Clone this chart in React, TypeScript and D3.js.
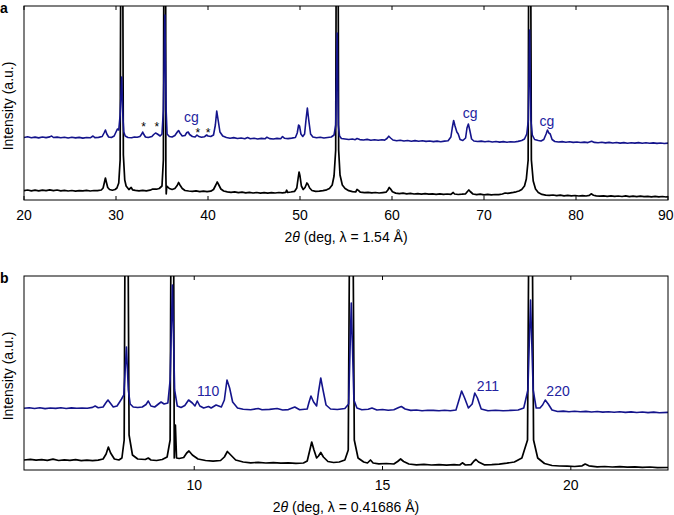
import React from "react";
import * as d3 from "d3";

type P = [number, number];

// Panel a (Cu Kα, λ = 1.54 Å) – intensity in arbitrary units (0 = bottom of frame)
const BLACK_A: P[] = [
  [20.0, 9.4], [20.4, 10.0], [20.8, 9.2], [21.2, 9.8], [21.6, 9.1], [22.0, 9.9], [22.4, 9.3], [22.8, 10.1],
  [23.2, 9.4], [23.6, 10.0], [24.0, 9.2], [24.4, 9.6], [24.8, 9.0], [25.2, 9.5], [25.6, 8.9], [26.0, 9.4],
  [26.4, 9.1], [26.8, 9.6], [27.2, 9.0], [27.6, 9.5], [28.0, 9.3], [28.4, 10.0], [28.6, 12], [28.75, 18],
  [28.85, 22], [28.95, 18], [29.1, 12.5], [29.3, 10.5], [29.6, 9.8], [29.9, 10.5], [30.1, 12], [30.3, 17],
  [30.45, 40], [30.57, 400], [30.68, 400], [30.8, 45], [30.95, 20], [31.1, 14], [31.4, 10.5], [31.65, 12.5],
  [31.8, 10.2], [32.1, 9.6], [32.5, 9.2], [32.9, 9.7], [33.3, 9.1], [33.7, 9.8], [34.0, 11], [34.4, 10.8],
  [34.7, 11.5], [35.0, 14], [35.15, 40], [35.24, 400], [35.38, 400], [35.42, 25], [35.46, 6], [35.52, 14],
  [35.8, 11.5], [36.1, 10.5], [36.4, 11.5], [36.65, 14.5], [36.8, 17.5], [36.95, 15], [37.2, 11.5], [37.5, 9.5],
  [37.9, 9.0], [38.3, 8.6], [38.7, 9.1], [39.1, 8.4], [39.5, 8.9], [39.9, 8.3], [40.3, 8.8], [40.6, 10.5],
  [40.85, 15], [41.0, 18], [41.15, 15.5], [41.4, 11], [41.7, 9], [42.1, 8.2], [42.5, 7.6], [42.9, 8.1],
  [43.3, 7.4], [43.7, 7.9], [44.1, 7.2], [44.5, 7.6], [44.9, 7.0], [45.3, 7.5], [45.7, 6.9], [46.1, 7.4],
  [46.5, 6.9], [46.9, 7.3], [47.3, 7.0], [47.7, 7.5], [48.1, 7.2], [48.45, 7.6], [48.55, 9.8], [48.65, 7.6],
  [49.0, 8.0], [49.4, 8.6], [49.65, 12], [49.8, 22], [49.9, 28], [50.0, 24], [50.15, 14], [50.35, 10.5],
  [50.55, 12.5], [50.75, 17], [50.85, 16], [51.05, 12], [51.3, 9.5], [51.7, 8.6], [52.1, 8.9], [52.5, 9.4],
  [52.9, 10.2], [53.2, 11.5], [53.5, 15], [53.7, 24], [53.88, 50], [53.98, 400], [54.1, 400], [54.2, 50],
  [54.35, 25], [54.6, 15], [54.9, 11.5], [55.3, 9.3], [55.7, 8.4], [56.05, 8.0], [56.2, 10.5], [56.35, 9.6],
  [56.55, 7.8], [57.0, 7.4], [57.4, 7.7], [57.8, 7.1], [58.2, 7.5], [58.6, 7.0], [59.0, 7.4], [59.35, 7.8],
  [59.55, 10], [59.7, 12.5], [59.85, 11], [60.05, 8.2], [60.4, 6.9], [60.8, 6.4], [61.2, 6.8], [61.6, 6.2],
  [62.0, 6.6], [62.4, 6.0], [62.8, 6.4], [63.2, 5.9], [63.6, 6.3], [64.0, 5.8], [64.4, 6.2], [64.8, 5.7],
  [65.2, 6.1], [65.6, 5.6], [66.0, 6.0], [66.4, 5.6], [66.65, 7.5], [66.8, 6.0], [67.2, 5.5], [67.6, 5.8],
  [68.0, 6.2], [68.2, 8.5], [68.35, 10], [68.5, 8.5], [68.8, 6.0], [69.2, 5.4], [69.6, 5.8], [70.0, 5.2],
  [70.4, 5.6], [70.8, 5.1], [71.2, 5.5], [71.6, 5.3], [72.0, 6.0], [72.3, 7.0], [72.6, 6.6], [72.9, 7.2],
  [73.2, 7.6], [73.5, 8.2], [73.8, 9.0], [74.1, 10.5], [74.4, 14], [74.6, 21], [74.8, 40], [74.9, 400],
  [75.02, 400], [75.15, 40], [75.35, 19], [75.6, 11], [75.9, 7.5], [76.3, 5.6], [76.7, 4.8], [77.1, 4.6],
  [77.5, 5.0], [77.9, 4.4], [78.3, 4.8], [78.7, 4.2], [79.1, 4.6], [79.5, 4.1], [79.9, 4.5], [80.3, 4.0],
  [80.7, 4.4], [81.1, 4.0], [81.45, 4.6], [81.65, 6.2], [81.9, 4.8], [82.2, 4.1], [82.6, 3.8], [83.0, 4.2],
  [83.4, 3.7], [83.8, 4.1], [84.2, 3.6], [84.6, 4.0], [85.0, 3.5], [85.4, 4.1], [85.8, 3.4], [86.2, 3.8],
  [86.6, 3.4], [87.0, 3.8], [87.4, 3.3], [87.8, 3.7], [88.2, 3.2], [88.6, 3.6], [89.0, 3.1], [89.4, 3.5],
  [89.8, 3.0], [90.0, 3.4],
];

const BLUE_A: P[] = [
  [20.0, 62.5], [20.4, 63.2], [20.8, 62.3], [21.2, 62.9], [21.6, 62.1], [22.0, 63.0], [22.4, 62.4], [22.8, 63.1],
  [23.0, 64.0], [23.2, 62.5], [23.6, 62.9], [24.0, 62.2], [24.4, 62.8], [24.8, 62.0], [25.2, 62.7], [25.6, 62.1],
  [26.0, 62.6], [26.4, 61.9], [26.8, 62.5], [27.2, 62.2], [27.5, 64.0], [27.7, 62.4], [28.1, 62.6], [28.5, 63.5],
  [28.7, 67], [28.85, 70], [29.0, 66], [29.2, 63], [29.5, 62.5], [29.8, 64], [30.0, 68], [30.15, 71],
  [30.3, 70], [30.45, 85], [30.62, 123], [30.74, 85], [30.85, 68], [31.0, 64], [31.3, 62.5], [31.7, 62.2],
  [32.0, 63], [32.3, 62.8], [32.6, 63.5], [32.8, 66], [32.9, 68], [33.0, 66], [33.2, 63], [33.5, 62.5],
  [33.9, 63.5], [34.1, 65.5], [34.3, 67], [34.5, 66], [34.8, 64], [35.0, 66], [35.15, 90], [35.31, 185],
  [35.45, 90], [35.55, 66], [35.8, 63.5], [36.1, 63], [36.4, 64.5], [36.7, 68.5], [36.8, 69.5], [36.95, 67],
  [37.2, 64], [37.5, 64.5], [37.7, 67.5], [37.85, 68], [38.0, 65.5], [38.3, 63.5], [38.6, 63], [38.8, 65],
  [39.0, 63.5], [39.3, 62.8], [39.6, 63.2], [39.85, 65], [40.0, 64], [40.3, 63.5], [40.6, 65], [40.8, 75],
  [40.95, 89], [41.1, 80], [41.3, 68], [41.6, 64], [42.0, 62.5], [42.4, 61.8], [42.8, 62.4], [43.2, 61.5],
  [43.6, 62.0], [44.0, 61.2], [44.3, 62.5], [44.6, 61.3], [45.0, 61.8], [45.4, 61.0], [45.8, 61.6], [46.2, 61.2],
  [46.4, 62.8], [46.7, 61.4], [47.1, 61.0], [47.5, 61.6], [47.9, 61.3], [48.1, 63.5], [48.3, 61.8], [48.7, 61.4],
  [49.1, 61.9], [49.5, 62.5], [49.7, 67], [49.85, 75], [49.95, 74], [50.1, 66], [50.3, 63.5], [50.5, 66],
  [50.65, 80], [50.8, 92], [50.95, 80], [51.15, 66], [51.4, 63], [51.8, 62.2], [52.2, 62.8], [52.6, 62.0],
  [53.0, 62.5], [53.4, 63], [53.7, 65], [53.88, 75], [54.04, 167], [54.16, 75], [54.3, 64], [54.5, 61.5],
  [54.9, 61], [55.3, 60.5], [55.7, 61], [56.0, 60.3], [56.2, 61.5], [56.5, 60.4], [56.9, 60.0], [57.3, 60.6],
  [57.7, 59.8], [58.1, 60.3], [58.5, 59.7], [58.9, 60.2], [59.2, 59.9], [59.45, 61.5], [59.65, 63.8], [59.85, 62],
  [60.1, 60], [60.5, 59.2], [60.9, 59.8], [61.3, 59.0], [61.7, 59.5], [62.1, 58.8], [62.5, 59.4], [62.9, 58.7],
  [63.3, 59.2], [63.7, 58.6], [64.1, 59.0], [64.5, 58.4], [64.9, 58.9], [65.3, 58.3], [65.7, 58.9], [66.1, 59.2],
  [66.4, 63], [66.55, 72], [66.7, 79.5], [66.85, 74], [67.05, 68], [67.2, 66], [67.4, 60.5], [67.7, 59.5],
  [68.0, 62], [68.15, 72], [68.3, 76], [68.45, 70], [68.65, 61], [68.9, 59.0], [69.3, 58.5], [69.7, 58.9],
  [70.1, 58.2], [70.5, 58.7], [70.9, 58.0], [71.3, 58.5], [71.7, 57.9], [72.1, 58.4], [72.5, 57.8], [72.9, 58.3],
  [73.3, 58.0], [73.7, 58.6], [74.1, 59.5], [74.4, 61], [74.65, 66], [74.82, 80], [74.96, 170], [75.1, 80],
  [75.25, 65], [75.5, 60.5], [75.9, 59.5], [76.2, 59], [76.5, 60.5], [76.75, 66], [76.9, 70], [77.05, 67],
  [77.2, 66], [77.4, 60.5], [77.7, 58.5], [78.1, 58.0], [78.5, 58.4], [78.9, 57.8], [79.3, 58.2], [79.7, 57.6],
  [80.1, 58.0], [80.5, 57.5], [80.9, 57.9], [81.3, 57.4], [81.7, 58.8], [82.0, 57.6], [82.4, 57.3], [82.8, 57.8],
  [83.2, 57.1], [83.6, 57.6], [84.0, 57.0], [84.4, 57.5], [84.8, 56.9], [85.2, 57.4], [85.6, 56.8], [86.0, 57.3],
  [86.4, 56.9], [86.8, 57.4], [87.2, 56.8], [87.6, 57.2], [88.0, 56.7], [88.4, 57.1], [88.8, 56.6], [89.2, 57.0],
  [89.6, 56.5], [90.0, 56.9],
];

// Panel b (synchrotron, λ = 0.41686 Å)
const BLACK_B: P[] = [
  [5.48, 10.0], [5.65, 10.6], [5.8, 9.8], [5.95, 10.4], [6.1, 9.6], [6.25, 10.8], [6.4, 9.5], [6.55, 10.1],
  [6.7, 9.7], [6.85, 10.3], [7.0, 9.4], [7.15, 9.9], [7.3, 9.3], [7.45, 9.8], [7.58, 11], [7.66, 16],
  [7.72, 23], [7.78, 17], [7.88, 11], [8.0, 10], [8.08, 12], [8.14, 30], [8.18, 400], [8.22, 400],
  [8.27, 35], [8.36, 15], [8.5, 11], [8.7, 10.5], [8.78, 12], [8.85, 10], [9.0, 9.5], [9.15, 10.5],
  [9.28, 13], [9.36, 30], [9.4, 400], [9.44, 400], [9.47, 12], [9.5, 45], [9.53, 12], [9.6, 11.5],
  [9.72, 12.5], [9.8, 17], [9.86, 19], [9.95, 15], [10.1, 11], [10.3, 9.5], [10.5, 8.8], [10.7, 9.5],
  [10.8, 13], [10.88, 18.5], [10.97, 15], [11.1, 10], [11.3, 8], [11.5, 7.2], [11.7, 7.6], [11.9, 7.0],
  [12.1, 7.4], [12.3, 6.8], [12.5, 7.2], [12.7, 6.6], [12.9, 7.0], [13.0, 9], [13.07, 20], [13.12, 28],
  [13.18, 20], [13.25, 12], [13.3, 14], [13.36, 17.5], [13.43, 13], [13.55, 8.5], [13.7, 7.5], [13.85, 8],
  [14.0, 10], [14.09, 20], [14.15, 400], [14.19, 400], [14.25, 30], [14.35, 12], [14.5, 8], [14.6, 7],
  [14.68, 10], [14.75, 7], [14.9, 6.2], [15.1, 6.5], [15.3, 6.0], [15.4, 8.5], [15.48, 11], [15.56, 8.5],
  [15.7, 6], [15.9, 5.2], [16.1, 5.6], [16.3, 5.0], [16.5, 5.4], [16.7, 4.9], [16.9, 5.3], [17.05, 5.0],
  [17.12, 7.2], [17.2, 5.0], [17.35, 5.4], [17.43, 9], [17.48, 10.5], [17.55, 8], [17.7, 5.2], [17.9, 5.4],
  [18.1, 5.8], [18.3, 6.8], [18.5, 8], [18.7, 12], [18.85, 30], [18.91, 400], [18.95, 400], [19.01, 30],
  [19.12, 12], [19.3, 6.5], [19.5, 4.5], [19.7, 4.0], [19.9, 3.8], [20.1, 3.5], [20.3, 4.2], [20.38, 6],
  [20.48, 4.2], [20.7, 3.2], [20.9, 3.5], [21.1, 3.0], [21.3, 3.3], [21.5, 2.8], [21.7, 3.1], [21.9, 2.6],
  [22.1, 3.0], [22.3, 2.4], [22.58, 2.5],
];

const BLUE_B: P[] = [
  [5.48, 61.7], [5.62, 62.3], [5.76, 61.5], [5.9, 62.2], [6.04, 61.4], [6.18, 62.0], [6.32, 61.6], [6.46, 62.3],
  [6.6, 61.5], [6.74, 62.1], [6.88, 61.7], [7.02, 62.0], [7.16, 61.8], [7.3, 62.6], [7.37, 64], [7.45, 62.3],
  [7.58, 63], [7.65, 67], [7.71, 70], [7.77, 67], [7.85, 63], [7.95, 64], [8.02, 68], [8.07, 71],
  [8.13, 75], [8.2, 123], [8.25, 80], [8.3, 66], [8.38, 63], [8.5, 62.5], [8.62, 63], [8.72, 65.5],
  [8.78, 69], [8.85, 64], [8.95, 63], [9.05, 66], [9.12, 68], [9.2, 66], [9.3, 67], [9.36, 90],
  [9.42, 185], [9.48, 80], [9.55, 64], [9.65, 62.5], [9.75, 64.5], [9.85, 70], [9.95, 67], [10.02, 64],
  [10.08, 69], [10.15, 64], [10.25, 62], [10.38, 63.5], [10.45, 62], [10.58, 65], [10.65, 64], [10.72, 63],
  [10.8, 70], [10.87, 90], [10.94, 82], [11.02, 68], [11.15, 62], [11.3, 60.8], [11.5, 60.3], [11.7, 61.5],
  [11.8, 60.2], [12.0, 60.6], [12.2, 61.5], [12.35, 60.0], [12.5, 60.4], [12.67, 63], [12.8, 60.2], [13.0, 61],
  [13.05, 68], [13.1, 74], [13.17, 68], [13.25, 64], [13.3, 78], [13.36, 92], [13.42, 80], [13.5, 65],
  [13.62, 61], [13.8, 60.5], [14.0, 61.5], [14.1, 66], [14.17, 167], [14.24, 70], [14.32, 62], [14.45, 60.3],
  [14.62, 60.8], [14.72, 62], [14.85, 60], [15.0, 60.5], [15.15, 59.8], [15.3, 60.2], [15.43, 62.5], [15.5, 63.5],
  [15.6, 61], [15.75, 59.6], [15.9, 60.0], [16.05, 59.3], [16.2, 59.8], [16.35, 59.6], [16.5, 59.2], [16.65, 59.7],
  [16.8, 59.2], [16.95, 60], [17.03, 70], [17.1, 79], [17.18, 72], [17.28, 62], [17.38, 66], [17.45, 77],
  [17.52, 72], [17.62, 61], [17.8, 59.3], [18.0, 59.7], [18.2, 59.2], [18.4, 59.6], [18.6, 60], [18.75, 62],
  [18.86, 80], [18.93, 170], [19.0, 80], [19.08, 62], [19.18, 62], [19.25, 65], [19.32, 70], [19.4, 66],
  [19.5, 60], [19.65, 58.5], [19.8, 58.9], [19.95, 58.3], [20.1, 58.8], [20.25, 58.2], [20.4, 58.6], [20.55, 58.0],
  [20.7, 58.5], [20.85, 57.9], [21.0, 58.3], [21.15, 57.7], [21.3, 58.2], [21.45, 57.6], [21.6, 58.1], [21.75, 57.5],
  [21.9, 58.0], [22.05, 57.4], [22.2, 57.9], [22.35, 57.3], [22.58, 57.6],
];

const TICKS_A = [20, 30, 40, 50, 60, 70, 80, 90];
const TICKS_B = [10, 15, 20];

// annotations: [x, intensity]
const STARS_A: P[] = [[33.0, 73], [34.45, 73], [38.9, 67.5], [40.0, 67]];
const CG_A: P[] = [[38.2, 78], [68.5, 82], [76.85, 74]];
const HKL_B: { text: string; x: number; y: number }[] = [
  { text: "110", x: 10.37, y: 74.5 },
  { text: "211", x: 17.8, y: 79.5 },
  { text: "220", x: 19.66, y: 74 },
];

const BLUE = "#14148c";
const LABEL_BLUE = "#2323a0";
const FONT = "'Liberation Sans', Arial, Helvetica, sans-serif";

interface PanelProps {
  id: string;
  letter: string;
  top: number;
  bottom: number;
  domain: [number, number];
  ticks: number[];
  black: P[];
  blue: P[];
  xlabel: string;
  children?: (x: d3.ScaleLinear<number, number>, y: d3.ScaleLinear<number, number>) => React.ReactNode;
}

const LEFT = 24;
const RIGHT = 668;
const W = 674;

function Panel({ id, letter, top, bottom, domain, ticks, black, blue, xlabel, children }: PanelProps) {
  const x = d3.scaleLinear().domain(domain).range([LEFT, RIGHT]);
  const y = d3.scaleLinear().domain([0, bottom - top]).range([bottom, top]);
  const line = d3
    .line<P>()
    .x((d) => x(d[0]))
    .y((d) => y(d[1]));
  const cx = (LEFT + RIGHT) / 2;
  return (
    <g>
      <defs>
        <clipPath id={id}>
          <rect x={LEFT} y={top} width={RIGHT - LEFT} height={bottom - top} />
        </clipPath>
      </defs>
      <g clipPath={`url(#${id})`}>
        <path d={line(black) || ""} fill="none" stroke="#000" strokeWidth={1.7} strokeLinejoin="round" />
        <path d={line(blue) || ""} fill="none" stroke={BLUE} strokeWidth={1.6} strokeLinejoin="round" />
      </g>
      <rect x={LEFT} y={top} width={RIGHT - LEFT} height={bottom - top} fill="none" stroke="#000" strokeWidth={1} />
      {ticks.map((t) => {
        const tx = x(t);
        const nearEdge = tx + 9 > W;
        return (
          <g key={t}>
            <line x1={tx} x2={tx} y1={bottom} y2={bottom - 4} stroke="#000" strokeWidth={1} />
            <line x1={tx} x2={tx} y1={top} y2={top + 4} stroke="#000" strokeWidth={1} />
            <text
              x={nearEdge ? W - 0.5 : tx}
              y={bottom + 20}
              textAnchor={nearEdge ? "end" : "middle"}
              fontSize={14}
              fontFamily={FONT}
              fill="#000"
            >
              {t}
            </text>
          </g>
        );
      })}
      <text x={cx} y={bottom + 42} textAnchor="middle" fontSize={14} fontFamily={FONT} fill="#000">
        2<tspan fontStyle="italic">θ</tspan>
        {xlabel}
      </text>
      <text
        transform={`translate(13, ${(top + bottom) / 2 + 3}) rotate(-90)`}
        textAnchor="middle"
        fontSize={14}
        fontFamily={FONT}
        fill="#000"
      >
        Intensity (a.u.)
      </text>
      <text x={0} y={top + 7} fontSize={14} fontWeight="bold" fontFamily={FONT} fill="#000">
        {letter}
      </text>
      {children && children(x, y)}
    </g>
  );
}

export default function App() {
  return (
    <svg
      width={674}
      height={515}
      style={{ position: "absolute", left: 0, top: 0, background: "#fff" }}
      xmlns="http://www.w3.org/2000/svg"
    >
      <rect x={0} y={0} width={674} height={515} fill="#fff" />
      <Panel
        id="clipA"
        letter="a"
        top={6}
        bottom={200}
        domain={[20, 90]}
        ticks={TICKS_A}
        black={BLACK_A}
        blue={BLUE_A}
        xlabel=" (deg, λ = 1.54 Å)"
      >
        {(x, y) => (
          <g>
            {STARS_A.map(([sx, sy], i) => (
              <text key={i} x={x(sx)} y={y(sy)} textAnchor="middle" dominantBaseline="central" fontSize={12} fontFamily={FONT} fill="#000">
                *
              </text>
            ))}
            {CG_A.map(([gx, gy], i) => (
              <text key={i} x={x(gx)} y={y(gy)} textAnchor="middle" fontSize={14} fontFamily={FONT} fill={LABEL_BLUE}>
                cg
              </text>
            ))}
          </g>
        )}
      </Panel>
      <Panel
        id="clipB"
        letter="b"
        top={276}
        bottom={470}
        domain={[5.48, 22.58]}
        ticks={TICKS_B}
        black={BLACK_B}
        blue={BLUE_B}
        xlabel=" (deg, λ = 0.41686 Å)"
      >
        {(x, y) => (
          <g>
            {HKL_B.map((d) => (
              <text key={d.text} x={x(d.x)} y={y(d.y)} textAnchor="middle" fontSize={14} fontFamily={FONT} fill={LABEL_BLUE}>
                {d.text}
              </text>
            ))}
          </g>
        )}
      </Panel>
    </svg>
  );
}
